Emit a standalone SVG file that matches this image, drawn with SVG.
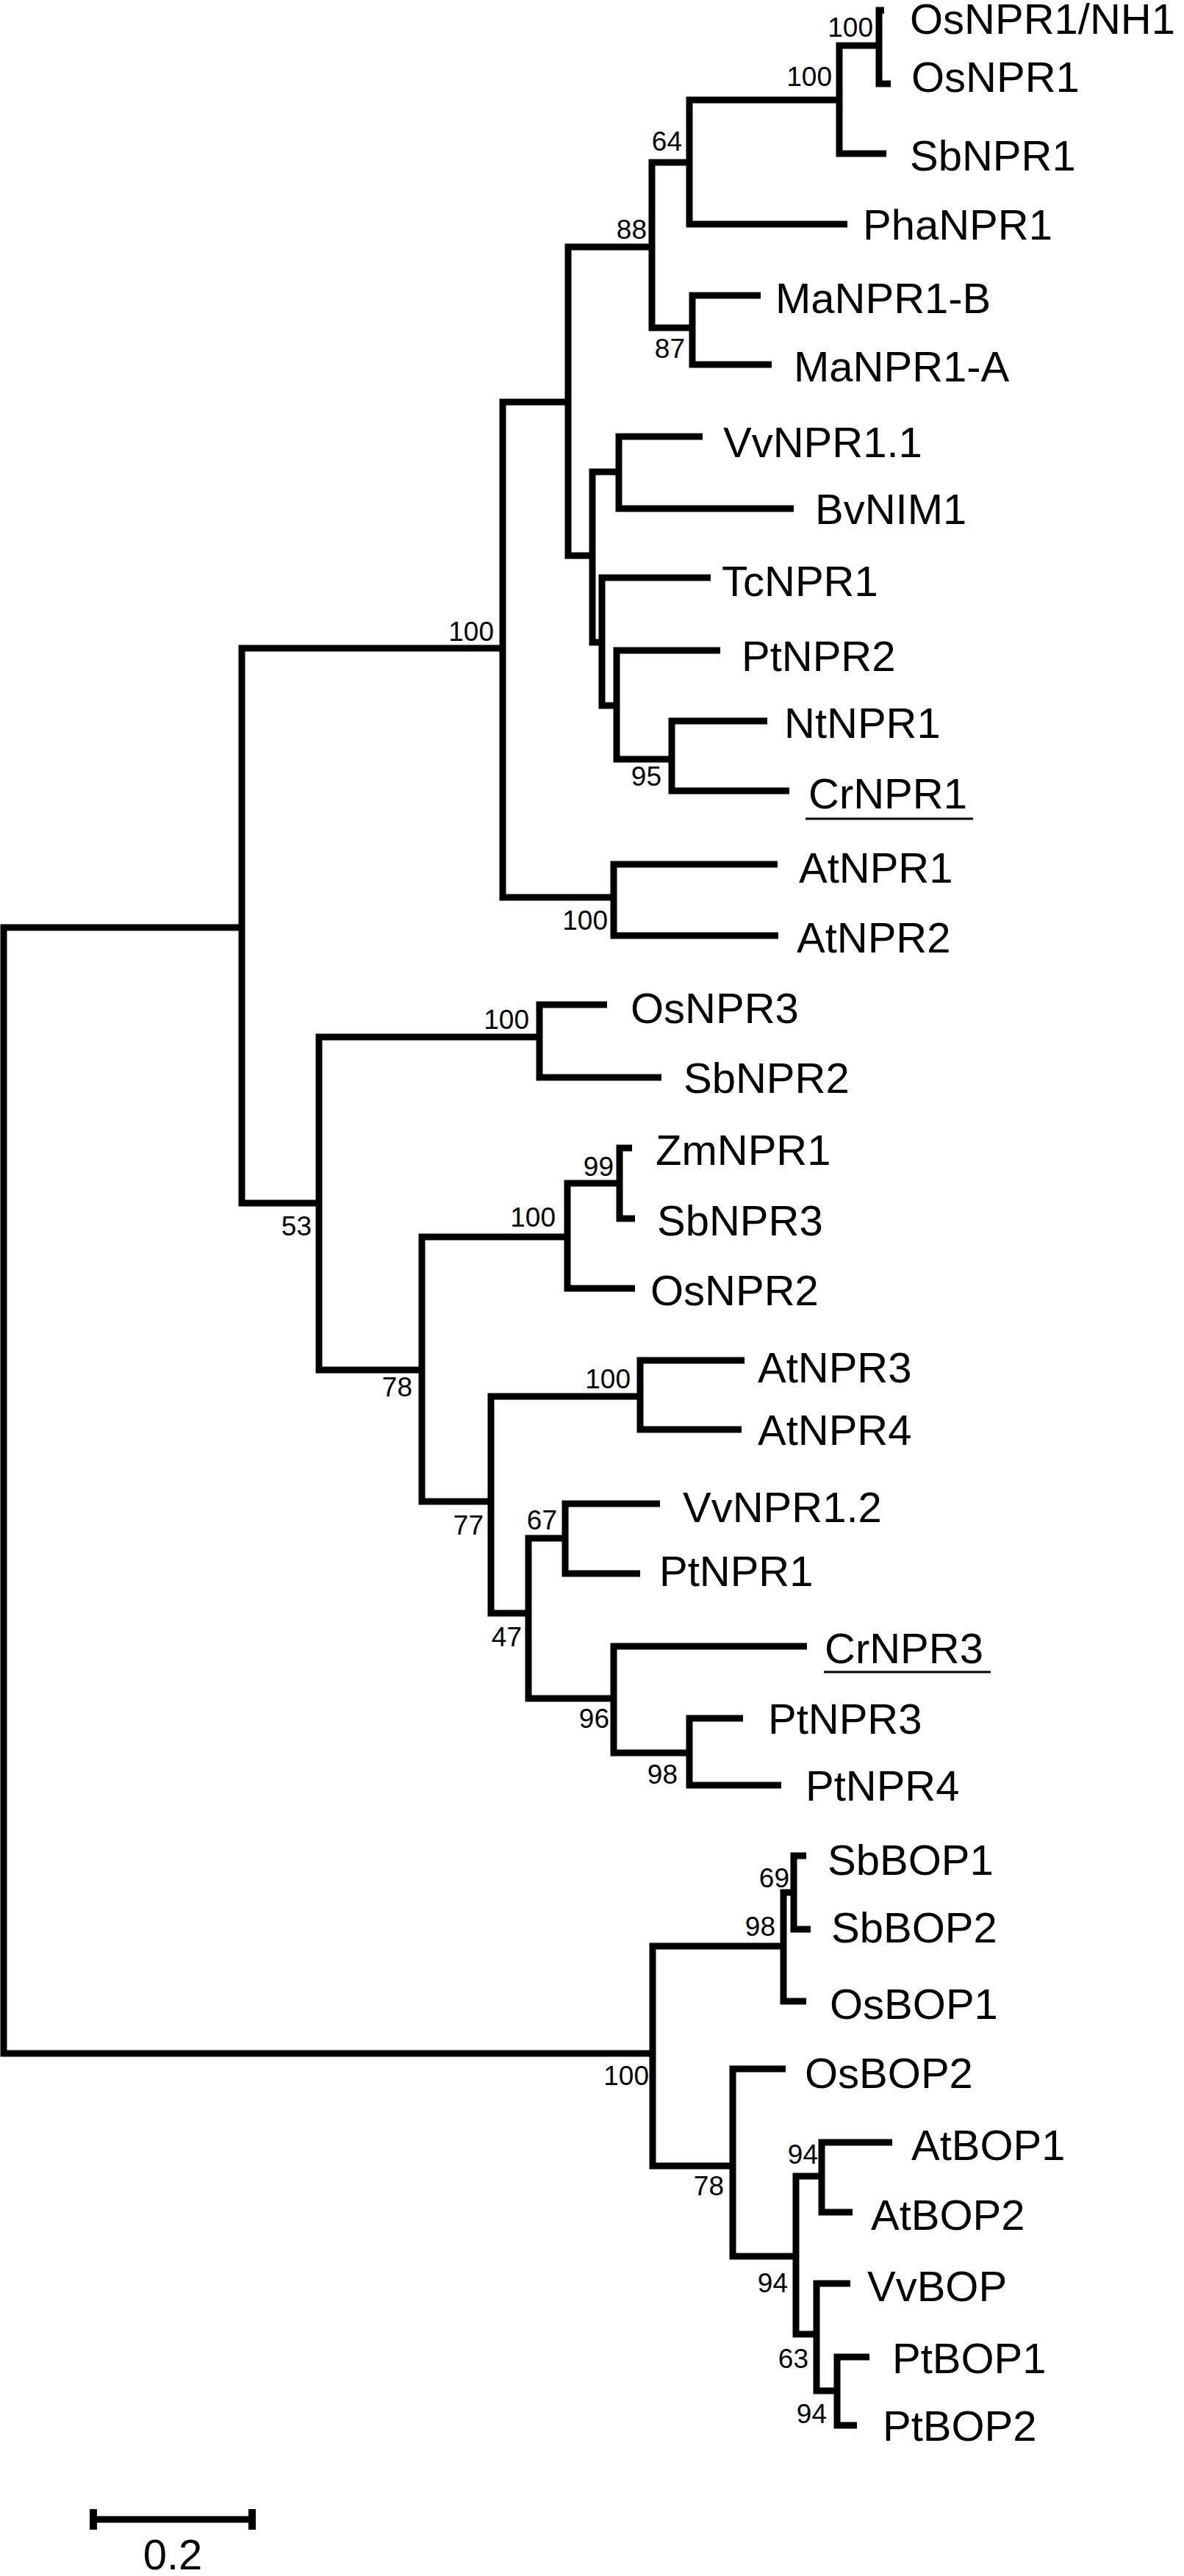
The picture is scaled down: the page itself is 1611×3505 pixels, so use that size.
<svg xmlns="http://www.w3.org/2000/svg" width="1611" height="3505" viewBox="0 0 1611 3505">
<style>
.br{fill:none;stroke:#000;stroke-width:9;stroke-linejoin:miter;stroke-linecap:butt}
.lf{font-family:"Liberation Sans",Arial,sans-serif;font-size:58px;fill:#000}
.bs{font-family:"Liberation Sans",Arial,sans-serif;font-size:37px;fill:#000;text-anchor:end}
.ul{stroke:#000;stroke-width:3}
</style>
<rect width="1611" height="3505" fill="#fff"/>
<g id="connectors">
<path class="br" d="M329 1262 H5 V2794 H888"/>
<path class="br" d="M684 882 H329 V1637 H434"/>
<path class="br" d="M773 547 H684 V1221 H835"/>
<path class="br" d="M887 336 H773 V756 H806"/>
<path class="br" d="M938 221 H887 V446 H942"/>
<path class="br" d="M1142 136 H938 V305 H1153"/>
<path class="br" d="M1196 62 H1142 V209 H1206"/>
<path class="br" d="M1203 14 H1196 V114 H1212"/>
<path class="br" d="M1035 402 H942 V496 H1050"/>
<path class="br" d="M842 642 H806 V874 H819"/>
<path class="br" d="M956 594 H842 V692 H1080"/>
<path class="br" d="M967 786 H819 V960 H839"/>
<path class="br" d="M980 885 H839 V1033 H914"/>
<path class="br" d="M1044 981 H914 V1076 H1074"/>
<path class="br" d="M1058 1176 H835 V1273 H1059"/>
<path class="br" d="M734 1411 H434 V1864 H574"/>
<path class="br" d="M826 1367 H734 V1466 H900"/>
<path class="br" d="M772 1683 H574 V2043 H668"/>
<path class="br" d="M843 1610 H772 V1753 H864"/>
<path class="br" d="M860 1562 H843 V1658 H864"/>
<path class="br" d="M871 1900 H668 V2195 H719"/>
<path class="br" d="M1013 1851 H871 V1945 H1009"/>
<path class="br" d="M769 2093 H719 V2311 H835"/>
<path class="br" d="M898 2046 H769 V2141 H871"/>
<path class="br" d="M1098 2240 H835 V2385 H938"/>
<path class="br" d="M1011 2338 H938 V2429 H1063"/>
<path class="br" d="M1066 2648 H888 V2947 H997"/>
<path class="br" d="M1080 2575 H1066 V2723 H1097"/>
<path class="br" d="M1097 2525 H1080 V2625 H1103"/>
<path class="br" d="M1069 2815 H997 V3070 H1083"/>
<path class="br" d="M1118 2961 H1083 V3176 H1111"/>
<path class="br" d="M1214 2915 H1118 V3010 H1160"/>
<path class="br" d="M1157 3107 H1111 V3253 H1139"/>
<path class="br" d="M1183 3207 H1139 V3300 H1166"/>
</g>
<g id="leaves">
<g id="leaf-OsNPR1-NH1"><text class="lf" x="1238" y="46">OsNPR1/NH1</text></g>
<g id="leaf-OsNPR1"><text class="lf" x="1240" y="125">OsNPR1</text></g>
<g id="leaf-SbNPR1"><text class="lf" x="1238" y="232">SbNPR1</text></g>
<g id="leaf-PhaNPR1"><text class="lf" x="1174" y="326">PhaNPR1</text></g>
<g id="leaf-MaNPR1-B"><text class="lf" x="1055" y="426">MaNPR1-B</text></g>
<g id="leaf-MaNPR1-A"><text class="lf" x="1080" y="519">MaNPR1-A</text></g>
<g id="leaf-VvNPR1.1"><text class="lf" x="984" y="622">VvNPR1.1</text></g>
<g id="leaf-BvNIM1"><text class="lf" x="1109" y="713">BvNIM1</text></g>
<g id="leaf-TcNPR1"><text class="lf" x="982" y="811">TcNPR1</text></g>
<g id="leaf-PtNPR2"><text class="lf" x="1009" y="913">PtNPR2</text></g>
<g id="leaf-NtNPR1"><text class="lf" x="1067" y="1004">NtNPR1</text></g>
<g id="leaf-CrNPR1"><text class="lf" x="1100" y="1100">CrNPR1</text><line class="ul" x1="1096" y1="1114" x2="1324" y2="1114"/></g>
<g id="leaf-AtNPR1"><text class="lf" x="1087" y="1201">AtNPR1</text></g>
<g id="leaf-AtNPR2"><text class="lf" x="1084" y="1296">AtNPR2</text></g>
<g id="leaf-OsNPR3"><text class="lf" x="858" y="1392">OsNPR3</text></g>
<g id="leaf-SbNPR2"><text class="lf" x="930" y="1487">SbNPR2</text></g>
<g id="leaf-ZmNPR1"><text class="lf" x="892" y="1585">ZmNPR1</text></g>
<g id="leaf-SbNPR3"><text class="lf" x="894" y="1681">SbNPR3</text></g>
<g id="leaf-OsNPR2"><text class="lf" x="885" y="1776">OsNPR2</text></g>
<g id="leaf-AtNPR3"><text class="lf" x="1031" y="1881">AtNPR3</text></g>
<g id="leaf-AtNPR4"><text class="lf" x="1031" y="1966">AtNPR4</text></g>
<g id="leaf-VvNPR1.2"><text class="lf" x="929" y="2071">VvNPR1.2</text></g>
<g id="leaf-PtNPR1"><text class="lf" x="897" y="2158">PtNPR1</text></g>
<g id="leaf-CrNPR3"><text class="lf" x="1122" y="2263">CrNPR3</text><line class="ul" x1="1121" y1="2275" x2="1348" y2="2275"/></g>
<g id="leaf-PtNPR3"><text class="lf" x="1045" y="2359">PtNPR3</text></g>
<g id="leaf-PtNPR4"><text class="lf" x="1096" y="2450">PtNPR4</text></g>
<g id="leaf-SbBOP1"><text class="lf" x="1126" y="2551">SbBOP1</text></g>
<g id="leaf-SbBOP2"><text class="lf" x="1131" y="2643">SbBOP2</text></g>
<g id="leaf-OsBOP1"><text class="lf" x="1129" y="2747">OsBOP1</text></g>
<g id="leaf-OsBOP2"><text class="lf" x="1095" y="2841">OsBOP2</text></g>
<g id="leaf-AtBOP1"><text class="lf" x="1240" y="2939">AtBOP1</text></g>
<g id="leaf-AtBOP2"><text class="lf" x="1185" y="3034">AtBOP2</text></g>
<g id="leaf-VvBOP"><text class="lf" x="1180" y="3131">VvBOP</text></g>
<g id="leaf-PtBOP1"><text class="lf" x="1214" y="3229">PtBOP1</text></g>
<g id="leaf-PtBOP2"><text class="lf" x="1201" y="3321">PtBOP2</text></g>
</g>
<g id="bootstrap">
<g id="node-osnph"><text class="bs" x="1188" y="50">100</text></g>
<g id="node-osnpr1grp"><text class="bs" x="1132" y="117">100</text></g>
<g id="node-64"><text class="bs" x="928" y="205">64</text></g>
<g id="node-88"><text class="bs" x="880" y="325">88</text></g>
<g id="node-87"><text class="bs" x="932" y="487">87</text></g>
<g id="node-95"><text class="bs" x="900" y="1069">95</text></g>
<g id="node-npr1clade"><text class="bs" x="672" y="872">100</text></g>
<g id="node-atnpr12"><text class="bs" x="827" y="1265">100</text></g>
<g id="node-osnpr3"><text class="bs" x="720" y="1400">100</text></g>
<g id="node-99"><text class="bs" x="835" y="1600">99</text></g>
<g id="node-53"><text class="bs" x="424" y="1681">53</text></g>
<g id="node-zmclade"><text class="bs" x="756" y="1669">100</text></g>
<g id="node-78a"><text class="bs" x="561" y="1900">78</text></g>
<g id="node-atnpr34"><text class="bs" x="858" y="1889">100</text></g>
<g id="node-77"><text class="bs" x="658" y="2088">77</text></g>
<g id="node-67"><text class="bs" x="758" y="2081">67</text></g>
<g id="node-47"><text class="bs" x="710" y="2240">47</text></g>
<g id="node-96"><text class="bs" x="829" y="2351">96</text></g>
<g id="node-98a"><text class="bs" x="922" y="2427">98</text></g>
<g id="node-69"><text class="bs" x="1074" y="2568">69</text></g>
<g id="node-98b"><text class="bs" x="1055" y="2634">98</text></g>
<g id="node-bop"><text class="bs" x="883" y="2837">100</text></g>
<g id="node-78b"><text class="bs" x="985" y="2987">78</text></g>
<g id="node-94a"><text class="bs" x="1113" y="2944">94</text></g>
<g id="node-94b"><text class="bs" x="1072" y="3119">94</text></g>
<g id="node-63"><text class="bs" x="1100" y="3222">63</text></g>
<g id="node-94c"><text class="bs" x="1125" y="3297">94</text></g>
</g>
<g id="scale-bar">
<path class="br" d="M127 3428 H343"/>
<rect x="122" y="3414" width="10" height="28" fill="#000"/>
<rect x="338" y="3414" width="10" height="28" fill="#000"/>
<text x="235" y="3496" font-family="Liberation Sans, Arial, sans-serif" font-size="58" text-anchor="middle">0.2</text>
</g>
</svg>
